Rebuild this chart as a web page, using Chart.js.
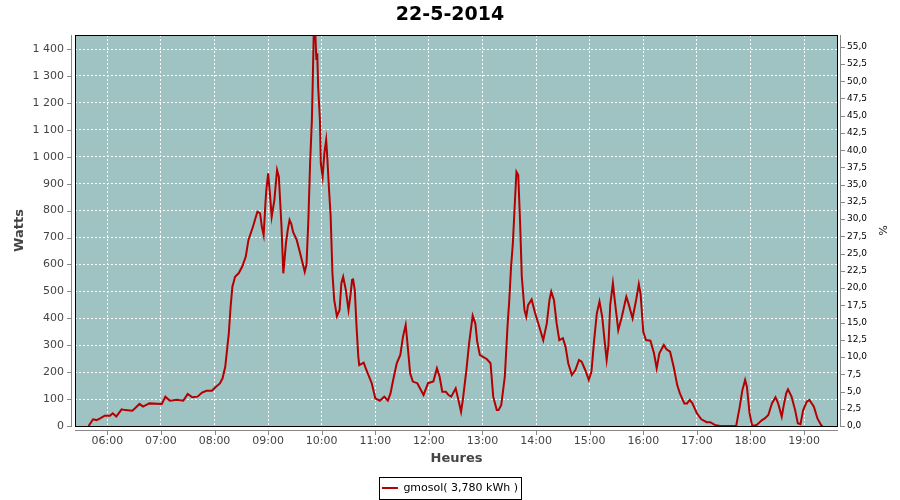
<!DOCTYPE html>
<html><head><meta charset="utf-8">
<script src="https://cdn.jsdelivr.net/npm/chart.js@4.4.1/dist/chart.umd.min.js"></script>
<style>html,body{margin:0;padding:0;background:#fff}#wrap{width:900px;height:500px}</style>
</head><body><div id="wrap"><canvas id="c" width="900" height="500"></canvas></div>
<script>
const chartTitle = '22-5-2014';
const seriesLabel = 'gmosol( 3,780 kWh )';
// time of day in minutes since midnight
const timeMin = [339,344,348,352,357,363,366,370,376,380,388,391,396,400,407,421,425,430,438,445,450,455,461,466,471,477,481,486,489,492,494,496,498,500,503,507,511,515,518,523,528,531,533,535,537,538,540,542,544,547,550,552,555,557,560,562,564,566,568,572,576,579,581,583,585,587,589,590,591,593,594,595,596,598,599,601,603,605,606,608,610,612,614,617,620,622,624,627,630,632,634,635,637,639,641,642,647,650,656,660,665,670,674,677,680,684,688,691,694,696,699,702,707,710,714,719,725,729,732,735,739,742,745,750,753,756,758,762,765,769,772,774,777,785,789,792,796,798,801,805,808,810,812,814,816,818,820,822,824,827,829,831,835,839,843,848,852,855,857,860,863,866,870,873,876,880,884,888,891,895,899,902,905,908,911,914,917,919,921,923,926,928,932,936,941,943,948,952,955,957,960,963,968,972,975,978,983,986,990,994,998,1001,1006,1009,1012,1015,1020,1025,1031,1035,1040,1046,1064,1068,1071,1074,1076,1079,1082,1087,1093,1096,1100,1104,1108,1111,1115,1117,1120,1122,1126,1130,1133,1136,1139,1143,1146,1151,1155,1159,1160];
const watts = [0,25,22,28,38,38,47,35,62,59,57,66,82,72,84,82,109,94,97,94,119,107,109,124,131,131,144,158,177,220,282,344,443,517,554,567,592,629,691,740,796,790,740,709,827,876,938,864,777,839,951,926,740,567,680,728,765,750,720,691,640,600,573,600,760,975,1136,1285,1446,1446,1359,1384,1260,1136,975,926,1013,1062,1013,889,780,567,468,408,431,530,554,505,431,480,542,548,505,369,257,226,235,208,159,103,94,109,94,121,171,233,264,332,375,307,196,165,159,140,115,159,165,214,183,127,127,115,109,140,97,53,97,208,307,410,381,315,264,248,233,109,59,59,78,183,369,468,592,678,814,944,932,765,554,431,406,449,470,418,375,319,381,468,499,468,381,319,326,294,233,189,208,245,239,208,171,202,319,418,462,406,307,245,300,450,530,468,356,406,480,460,400,468,527,490,350,319,317,270,214,270,301,285,276,220,152,121,84,84,97,84,47,25,14,14,4,0,0,72,134,171,146,47,0,4,22,28,41,84,107,84,35,72,121,136,109,59,10,7,59,90,97,72,28,4,0];
const hourTicks = [360,420,480,540,600,660,720,780,840,900,960,1020,1080,1140];
const hourLabels = ['06:00','07:00','08:00','09:00','10:00','11:00','12:00','13:00','14:00','15:00','16:00','17:00','18:00','19:00'];
const wattTicks = [0,100,200,300,400,500,600,700,800,900,1000,1100,1200,1300,1400];
const pctTicks = [0,2.5,5,7.5,10,12.5,15,17.5,20,22.5,25,27.5,30,32.5,35,37.5,40,42.5,45,47.5,50,52.5,55];

const FONT = "'DejaVu Sans', sans-serif";
const RED = '#b40000';
const fmtW = v => String(v).replace(/\B(?=(\d{3})+(?!\d))/g, ' ');
const fmtP = v => Number(v).toFixed(1).replace('.', ',');

const decor = {
  id: 'decor',
  beforeDraw(chart) {
    const {ctx, chartArea: a} = chart;
    ctx.save();
    ctx.fillStyle = '#9fc3c2';
    ctx.fillRect(a.left, a.top, a.right - a.left, a.bottom - a.top);
    ctx.restore();
  },
  afterLayout(chart) {
    const lg = chart.legend;
    if (lg) { lg.top += 3.5; lg.bottom += 3.5; }
  },
  afterDraw(chart) {
    const {ctx, chartArea: a, scales} = chart;
    ctx.save();
    ctx.lineWidth = 1;
    ctx.strokeStyle = '#000';
    ctx.strokeRect(a.left + 0.5, a.top + 0.5, a.right - a.left - 1, a.bottom - a.top);
    // axis lines, offset from plot
    ctx.strokeStyle = '#888';
    ctx.beginPath();
    ctx.moveTo(a.left - 3.5, a.top); ctx.lineTo(a.left - 3.5, a.bottom + 1);
    ctx.moveTo(a.right + 2.5, a.top); ctx.lineTo(a.right + 2.5, a.bottom + 1);
    ctx.moveTo(a.left, a.bottom + 4.5); ctx.lineTo(a.right, a.bottom + 4.5);
    wattTicks.forEach(v => {
      const y = Math.round(scales.y.getPixelForValue(v)) + 0.5;
      ctx.moveTo(a.left - 8, y); ctx.lineTo(a.left - 3.5, y);
    });
    pctTicks.forEach(v => {
      const y = Math.round(scales.y2.getPixelForValue(v)) + 0.5;
      ctx.moveTo(a.right + 2.5, y); ctx.lineTo(a.right + 7, y);
    });
    hourTicks.forEach(v => {
      const x = Math.round(scales.x.getPixelForValue(v)) + 0.5;
      ctx.moveTo(x, a.bottom + 4.5); ctx.lineTo(x, a.bottom + 9);
    });
    ctx.stroke();
    // legend frame
    const lg = chart.legend;
    if (lg && lg.legendHitBoxes && lg.legendHitBoxes[0]) {
      const hb = lg.legendHitBoxes[0];
      ctx.strokeStyle = '#000';
      ctx.strokeRect(Math.round(hb.left - 3) + 0.5, Math.round(hb.top - 5.5) + 0.5,
                     Math.round(hb.width + 6), Math.round(hb.height + 11));
    }
    ctx.restore();
  }
};

new Chart(document.getElementById('c'), {
  type: 'line',
  data: {
    datasets: [{
      label: seriesLabel,
      data: timeMin.map((t, i) => ({x: t, y: watts[i]})),
      borderColor: RED,
      backgroundColor: RED,
      borderWidth: 2,
      pointRadius: 0,
      tension: 0,
      fill: false,
      xAxisID: 'x',
      yAxisID: 'y'
    }]
  },
  options: {
    responsive: false,
    animation: false,
    layout: {padding: 0},
    scales: {
      x: {
        type: 'linear', position: 'bottom', min: 323.8, max: 1178,
        afterBuildTicks: s => { s.ticks = hourTicks.map(v => ({value: v})); },
        afterFit: s => { s.height = 50; },
        ticks: {
          callback: v => hourLabels[hourTicks.indexOf(v)],
          color: '#444', font: {family: FONT, size: 11}, padding: 9,
          maxRotation: 0, autoSkip: false
        },
        grid: {color: '#fff', lineWidth: 1, drawTicks: false, borderDash: [2, 2]},
        border: {display: false, dash: [2, 2]},
        title: {display: true, text: 'Heures', color: '#444',
                font: {family: FONT, size: 13, weight: 'bold'}, padding: {top: 0, bottom: 9.2}}
      },
      y: {
        position: 'left', min: 0, max: 1452,
        afterBuildTicks: s => { s.ticks = wattTicks.map(v => ({value: v})); },
        afterFit: s => { s.width = 75; },
        ticks: {callback: v => fmtW(v), color: '#444', font: {family: FONT, size: 11}, padding: 11},
        grid: {color: '#fff', lineWidth: 1, drawTicks: false, borderDash: [2, 2]},
        border: {display: false, dash: [2, 2]},
        title: {display: true, text: 'Watts', color: '#444',
                font: {family: FONT, size: 13, weight: 'bold'}, padding: {top: 12, bottom: 0}}
      },
      y2: {
        position: 'right', min: 0, max: 56.7,
        afterBuildTicks: s => { s.ticks = pctTicks.map(v => ({value: v})); },
        afterFit: s => { s.width = 62; },
        ticks: {callback: v => fmtP(v), color: '#000', font: {family: FONT, size: 9}, padding: 9},
        grid: {display: false, drawOnChartArea: false, drawTicks: false},
        border: {display: false},
        title: {display: true, text: '%', color: '#222',
                font: {family: FONT, size: 11}, padding: {top: 11.7, bottom: 0}}
      }
    },
    plugins: {
      title: {display: true, text: chartTitle, color: '#000',
              font: {family: FONT, size: 19, weight: 'bold'}, padding: {top: 4, bottom: 8.2}},
      legend: {
        display: true, position: 'bottom',
        labels: {
          boxWidth: 16, boxHeight: 2, padding: 3, color: '#444',
          font: {family: FONT, size: 11},
          generateLabels: () => [{text: seriesLabel, fillStyle: RED, strokeStyle: RED,
                                  lineWidth: 0, hidden: false, datasetIndex: 0}]
        }
      },
      tooltip: {enabled: false}
    }
  },
  plugins: [decor]
});
</script>
</body></html>
